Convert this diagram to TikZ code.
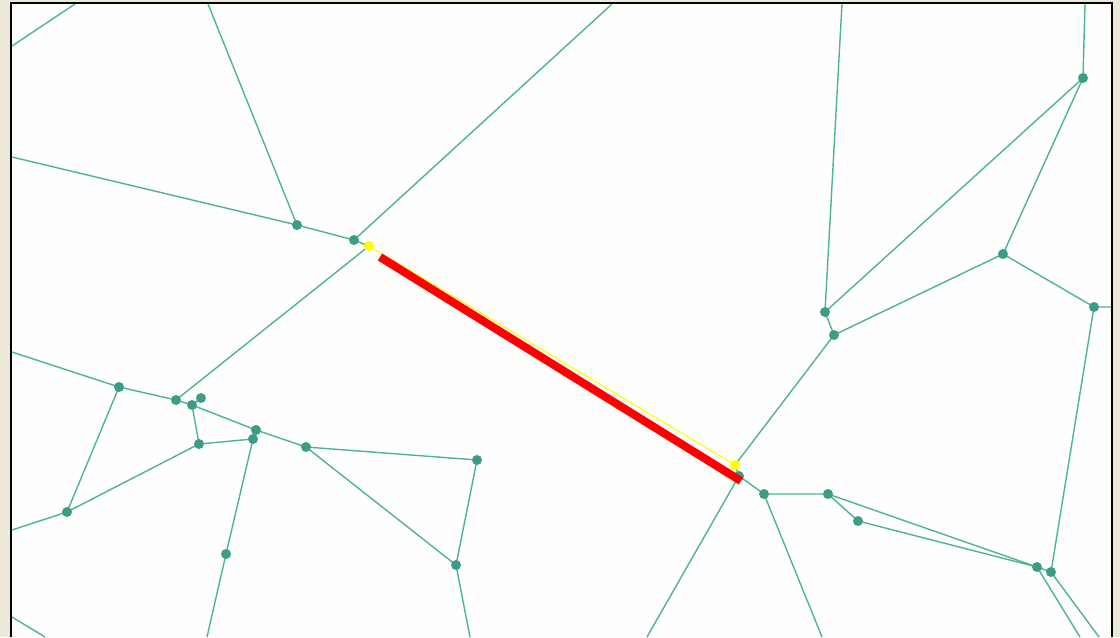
\documentclass[tikz,border=0pt]{standalone}
\usepackage{tikz}

\definecolor{frameback}{RGB}{236,233,216}
\definecolor{panel}{RGB}{254,254,252}
\definecolor{edgecol}{RGB}{78,180,152}
\definecolor{dotcol}{RGB}{60,156,136}
\definecolor{hilite}{RGB}{255,255,0}

\begin{document}
\begin{tikzpicture}[x=0.02cm,y=-0.02cm,
  edge/.style={draw=edgecol,line width=0.8pt},
  site/.style={fill=dotcol},
  sel/.style={draw=hilite,line width=0.6pt},
  cut/.style={draw=red,line width=4.6pt}]
% frame
\fill[frameback] (0,0) rectangle (1120,637);
\fill[panel] (11,3) rectangle (1112,637);
\useasboundingbox (0,0) rectangle (1120,637);
% vertices
\coordinate (n1) at (297,225);
\coordinate (n2) at (354,240);
\coordinate (y1) at (369,246);
\coordinate (n3) at (119,387);
\coordinate (n4) at (176,400);
\coordinate (n5) at (201,398);
\coordinate (n6) at (192,405);
\coordinate (n7) at (256,430);
\coordinate (n8) at (253,439);
\coordinate (n9) at (199,444);
\coordinate (n10) at (306,447);
\coordinate (n11) at (477,460);
\coordinate (n12) at (67,512);
\coordinate (n13) at (226,554);
\coordinate (n14) at (456,565);
\coordinate (y2) at (735,465);
\coordinate (n15) at (739,476);
\coordinate (n16) at (764,494);
\coordinate (n17) at (828,494);
\coordinate (n18) at (858,521);
\coordinate (n19) at (1037,567);
\coordinate (n20) at (1051,572);
\coordinate (n21) at (1083,78);
\coordinate (n22) at (1003,254);
\coordinate (n23) at (1094,307);
\coordinate (n24) at (825,312);
\coordinate (n25) at (834,335);
% open ends on the frame
\coordinate (l1) at (12,46);
\coordinate (t1) at (75,4);
\coordinate (t2) at (208,4);
\coordinate (t3) at (612,4);
\coordinate (t4) at (842,4);
\coordinate (t5) at (1085,4);
\coordinate (l2) at (12,157);
\coordinate (l3) at (12,352);
\coordinate (l4) at (12,530);
\coordinate (l5) at (12,617);
\coordinate (r1) at (1111,307);
\coordinate (b1) at (45,637);
\coordinate (b2) at (207,637);
\coordinate (b3) at (470,637);
\coordinate (b4) at (647,637);
\coordinate (b5) at (822,637);
\coordinate (b6) at (1080,637);
\coordinate (b7) at (1099,637);
% edges
\draw[edge] (l1) -- (t1);
\draw[edge] (l2) -- (n1) -- (n2) -- (t3);
\draw[edge] (t2) -- (n1);
\draw[edge] (n2) -- (y1) -- (n4);
\draw[edge] (l3) -- (n3) -- (n4) -- (n6) -- (n5);
\draw[edge] (n3) -- (n12) -- (l4);
\draw[edge] (n6) -- (n9) -- (n8) -- (n7) -- (n6);
\draw[edge] (n9) -- (n12);
\draw[edge] (n7) -- (n10) -- (n11) -- (n14) -- (n10);
\draw[edge] (n8) -- (n13) -- (b2);
\draw[edge] (n14) -- (b3);
\draw[edge] (l5) -- (b1);
\draw[edge] (y2) -- (n25) -- (n24) -- (t4);
\draw[edge] (y2) -- (n15) -- (b4);
\draw[edge] (n15) -- (n16) -- (n17) -- (n19) -- (n20) -- (n23) -- (r1);
\draw[edge] (n17) -- (n18) -- (n19);
\draw[edge] (n16) -- (b5);
\draw[edge] (n19) -- (b6);
\draw[edge] (n20) -- (b7);
\draw[edge] (n25) -- (n22) -- (n23);
\draw[edge] (n22) -- (n21) -- (t5);
\draw[edge] (n21) -- (n24);
% sites
\foreach \v in {n1,n2,n3,n4,n5,n6,n7,n8,n9,n10,n11,n12,n13,n14,n15,
  n16,n17,n18,n19,n20,n21,n22,n23,n24,n25}
  \fill[site] (\v) circle[radius=0.1cm];
% selected edge
\draw[sel] (y1) -- (y2);
\coordinate (c1) at (380,257);
\coordinate (c2) at (741,481);
\draw[cut] (c1) -- (c2);
\fill[hilite] (y1) circle[radius=0.1cm];
\fill[hilite] (y2) circle[radius=0.1cm];
% frame line
\draw[black,line width=1.1pt] (11,637) -- (11,3) -- (1112,3) -- (1112,637);
\end{tikzpicture}
\end{document}
